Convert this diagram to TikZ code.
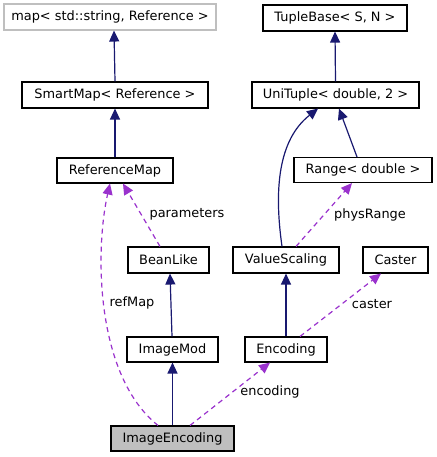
\documentclass[tikz,border=0pt]{standalone}
\usepackage{fontspec}
\setmainfont{DejaVu Sans}
\usetikzlibrary{arrows.meta}
\definecolor{edgeblue}{HTML}{191970}
\definecolor{edgepurple}{HTML}{9A32CD}
\definecolor{grayborder}{HTML}{BFBFBF}
\begin{document}
\begin{tikzpicture}[x=1bp,y=-1bp,
  font=\fontsize{12.9bp}{15bp}\selectfont,
  box/.style={draw=black, line width=1.1bp, fill=white, minimum height=25bp, inner sep=0pt, anchor=center},
  inherit/.style={draw=edgeblue, line width=1.2bp, -{Triangle[length=11bp,width=10bp]}},
  usage/.style={draw=edgepurple, line width=1.2bp, dash pattern=on 5bp off 4bp, -{Triangle[length=11bp,width=10bp]}},
  lbl/.style={inner sep=0pt, anchor=center}]
\useasboundingbox (0,0) rectangle (437,457);
\fill[white] (0,0) rectangle (437,457);

\node[box, draw=grayborder, minimum width=212bp, minimum height=26bp] (map) at (110,17) {map< std::string, Reference >};
\node[box, minimum width=144bp, minimum height=26bp] (tuplebase) at (335,18) {TupleBase< S, N >};
\node[box, minimum width=186bp, minimum height=26bp] (smartmap) at (115,95) {SmartMap< Reference >};
\node[box, minimum width=167bp, minimum height=26bp] (unituple) at (335.5,95) {UniTuple< double, 2 >};
\node[box, minimum width=116bp] (refmap) at (115,170.5) {ReferenceMap};
\node[box, minimum width=138bp] (range) at (363,170) {Range< double >};
\node[box, minimum width=81bp, minimum height=26bp] (beanlike) at (168.5,260) {BeanLike};
\node[box, minimum width=106bp, minimum height=26bp] (valuescaling) at (286,260) {ValueScaling};
\node[box, minimum width=65bp, minimum height=26bp] (caster) at (395.5,260) {Caster};
\node[box, minimum width=91bp] (imagemod) at (172.5,349.5) {ImageMod};
\node[box, minimum width=82bp] (encoding) at (286,349.5) {Encoding};
\node[box, fill=grayborder, minimum width=123bp] (imageencoding) at (172.5,438.5) {ImageEncoding};

% inheritance
\draw[inherit] ([xshift=0bp]smartmap.north) -- ([xshift=4bp]map.south);
\draw[inherit] (refmap.north) -- (smartmap.south);
\draw[inherit] (unituple.north) -- (tuplebase.south);
\draw[inherit] ([xshift=-4bp]valuescaling.north) .. controls (274,190) and (278,140) .. ([xshift=-17.5bp]unituple.south);
\draw[inherit] ([xshift=-6bp]range.north) -- ([xshift=3.5bp]unituple.south);
\draw[inherit] ([xshift=-0.5bp]imagemod.north) -- ([xshift=1.5bp]beanlike.south);
\draw[inherit] (imageencoding.north) -- (imagemod.south);
\draw[inherit] (encoding.north) -- (valuescaling.south);

% usage
\draw[usage] ([xshift=10bp]valuescaling.north) -- ([xshift=-11bp]range.south);
\node[lbl] (lphys) at (370,215) {physRange};
\draw[usage] ([xshift=-8.5bp]beanlike.north) -- ([xshift=8bp]refmap.south);
\node[lbl] (lparam) at (187,214) {parameters};
\draw[usage] ([xshift=-14.5bp]imageencoding.north) .. controls (95,375) and (95,250) .. ([xshift=-5bp]refmap.south);
\node[lbl] (lref) at (132,303) {refMap};
\draw[usage] ([xshift=14bp]encoding.north) -- ([xshift=-14.5bp]caster.south);
\node[lbl] (lcaster) at (372,304) {caster};
\draw[usage] ([xshift=17.5bp]imageencoding.north) -- ([xshift=-16bp]encoding.south);
\node[lbl] (lenc) at (270,392) {encoding};
\end{tikzpicture}
\end{document}
